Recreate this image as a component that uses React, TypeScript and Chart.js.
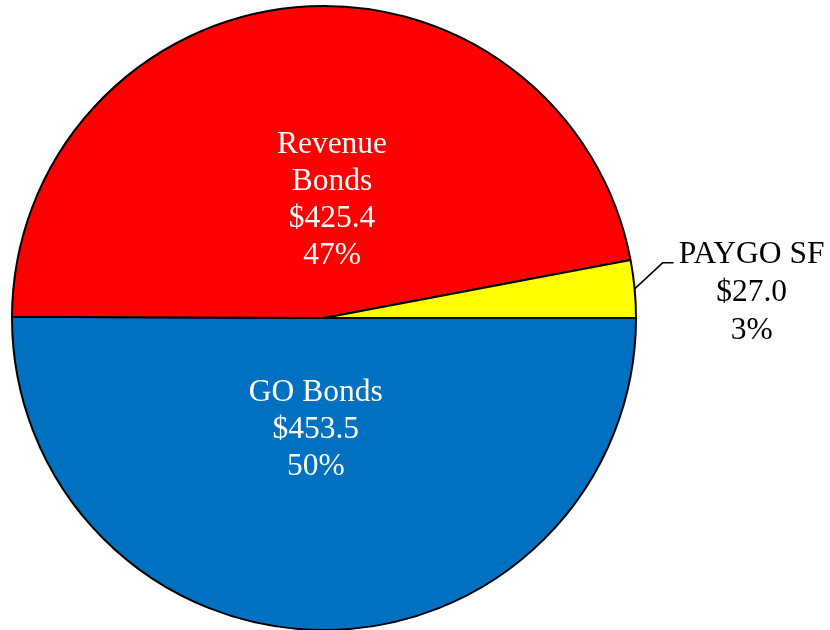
import React, { useEffect, useRef } from "react";
import { Chart, registerables } from "chart.js";

Chart.register(...registerables);

const categories = ["GO Bonds", "Revenue Bonds", "PAYGO SF"];
const labelLines = [["GO Bonds"], ["Revenue", "Bonds"], ["PAYGO SF"]];
const values = [453.5, 425.4, 27.0];
const valueLabels = ["$453.5", "$425.4", "$27.0"];
const percentLabels = ["50%", "47%", "3%"];
const colors = ["#0070C0", "#FF0000", "#FFFF00"];

const FONT = '"Liberation Serif", "Times New Roman", serif';

const labelPlugin = {
  id: "sliceLabels",
  afterDatasetsDraw(chart: any) {
    const ctx = chart.ctx;
    const meta = chart.getDatasetMeta(0);
    const lineH = 37;
    ctx.save();
    ctx.font = `31.5px ${FONT}`;
    ctx.textAlign = "center";
    ctx.textBaseline = "middle";
    meta.data.forEach((arc: any, i: number) => {
      const p = arc.getProps(["x", "y", "startAngle", "endAngle", "outerRadius"], true);
      const mid = (p.startAngle + p.endAngle) / 2;
      const lines = [...labelLines[i], valueLabels[i], percentLabels[i]];
      if (i < 2) {
        const r = i === 0 ? p.outerRadius * 0.352 : p.outerRadius * 0.385;
        const dx = i === 0 ? -8 : 19;
        const cx = p.x + Math.cos(mid) * r + dx;
        const cy = p.y + Math.sin(mid) * r + 2;
        ctx.fillStyle = "#FFFFFF";
        const start = cy - ((lines.length - 1) * lineH) / 2;
        lines.forEach((t, k) => ctx.fillText(t, cx, start + k * lineH));
      } else {
        const ex = p.x + Math.cos(mid) * p.outerRadius;
        const ey = p.y + Math.sin(mid) * p.outerRadius;
        const bx = ex + 28;
        const by = ey - 26;
        ctx.strokeStyle = "#000000";
        ctx.lineWidth = 1.5;
        ctx.beginPath();
        ctx.moveTo(ex, ey);
        ctx.lineTo(bx, by);
        ctx.lineTo(bx + 11, by);
        ctx.stroke();
        ctx.fillStyle = "#000000";
        const cx = bx + 89;
        const start = by - 8;
        lines.forEach((t, k) => ctx.fillText(t, cx, start + k * 38));
      }
    });
    ctx.restore();
  },
};

export default function App() {
  const ref = useRef<HTMLCanvasElement>(null);
  useEffect(() => {
    if (!ref.current) return;
    const chart = new Chart(ref.current, {
      type: "pie",
      data: {
        labels: categories,
        datasets: [
          {
            data: values,
            backgroundColor: colors,
            borderColor: "#000000",
            borderWidth: 2,
          },
        ],
      },
      options: {
        responsive: false,
        animation: false,
        devicePixelRatio: 1,
        rotation: 90,
        radius: 312,
        layout: { padding: { left: 12, top: 6, right: 194, bottom: 0 } },
        plugins: {
          legend: { display: false },
          tooltip: { enabled: false },
          title: { display: false },
        },
      },
      plugins: [labelPlugin],
    });
    return () => chart.destroy();
  }, []);
  return (
    <div style={{ position: "absolute", left: 0, top: 0, width: 830, height: 630, background: "#fff" }}>
      <canvas ref={ref} width={830} height={630} style={{ display: "block" }} />
    </div>
  );
}
